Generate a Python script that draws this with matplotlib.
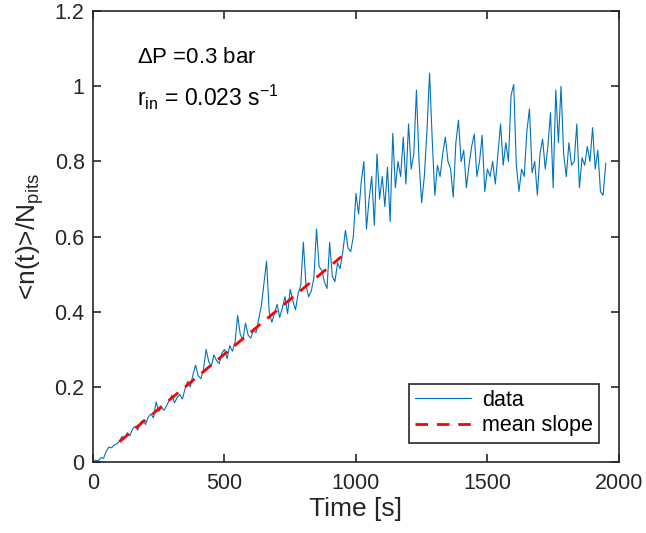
import numpy as np
import matplotlib.pyplot as plt

time_step = 10
n_norm = [
    0.000, 0.005, 0.003, 0.012, 0.010, 0.028, 0.040, 0.038, 0.045, 0.048,
    0.055, 0.068, 0.062, 0.078, 0.070, 0.088, 0.095, 0.085, 0.105, 0.112,
    0.100, 0.120, 0.128, 0.118, 0.160, 0.135, 0.145, 0.138, 0.150, 0.165,
    0.178, 0.158, 0.172, 0.180, 0.168, 0.195, 0.215, 0.200, 0.232, 0.258,
    0.230, 0.222, 0.245, 0.300, 0.268, 0.255, 0.285, 0.270, 0.262, 0.290,
    0.300, 0.275, 0.310, 0.295, 0.318, 0.390, 0.340, 0.325, 0.370, 0.338,
    0.330, 0.352, 0.345, 0.380, 0.415, 0.476, 0.535, 0.400, 0.372, 0.395,
    0.420, 0.385, 0.410, 0.440, 0.395, 0.460, 0.430, 0.405, 0.448, 0.470,
    0.585, 0.470, 0.440, 0.455, 0.490, 0.620, 0.520, 0.510, 0.480, 0.462,
    0.585, 0.495, 0.480, 0.530, 0.515, 0.560, 0.617, 0.570, 0.560, 0.600,
    0.715, 0.660, 0.745, 0.800, 0.620, 0.700, 0.760, 0.630, 0.820, 0.700,
    0.760, 0.680, 0.785, 0.640, 0.875, 0.730, 0.800, 0.760, 0.865, 0.740,
    0.900, 0.780, 0.820, 0.990, 0.800, 0.690, 0.760, 0.880, 1.035, 0.860,
    0.710, 0.790, 0.760, 0.820, 0.865, 0.800, 0.780, 0.705, 0.850, 0.910,
    0.800, 0.830, 0.730, 0.790, 0.840, 0.873, 0.760, 0.800, 0.870, 0.720,
    0.780, 0.760, 0.800, 0.740, 0.820, 0.900, 0.790, 0.850, 0.800, 0.976,
    1.005, 0.790, 0.720, 0.780, 0.760, 0.880, 0.940, 0.770, 0.800, 0.710,
    0.820, 0.860, 0.780, 0.840, 0.930, 0.730, 0.990, 0.850, 1.000, 0.820,
    0.760, 0.850, 0.790, 0.800, 0.900, 0.730, 0.810, 0.790, 0.840, 0.800,
    0.890, 0.780, 0.830, 0.720, 0.710, 0.795,
]
time = np.arange(len(n_norm)) * time_step

# Mean slope fit
slope = 0.000583
intercept = -0.004
fit_start = 100
fit_stop = 945

# Plot Configuration
plt.rcParams['font.family'] = 'Liberation Sans'
plt.rcParams['mathtext.default'] = 'regular'
plt.rcParams['axes.linewidth'] = 1.2
plt.rcParams['axes.edgecolor'] = '#262626'

fig = plt.figure(figsize=(6.46, 5.33), dpi=100)
ax = fig.add_axes([0.144, 0.133, 0.814, 0.846])

ax.plot(time, n_norm, color='#0072BD', linewidth=0.8, label='data')
fit_t = np.array([fit_start, fit_stop])
ax.plot(fit_t, slope * fit_t + intercept, color='red', linestyle='--',
        linewidth=2.0, dashes=(4.5, 3.2), label='mean slope')

ax.set_xlim(0, 2000)
ax.set_ylim(0, 1.2)
ax.set_xticks([0, 500, 1000, 1500, 2000])
ax.set_yticks([0, 0.2, 0.4, 0.6, 0.8, 1, 1.2])
ax.set_yticklabels(['0', '0.2', '0.4', '0.6', '0.8', '1', '1.2'])
ax.tick_params(direction='in', length=6, width=1.2, top=True, right=True,
               labelsize=15.5, colors='#262626', pad=6)
ax.tick_params(axis='x', pad=8)
ax.set_xlabel('Time [s]', fontsize=19, color='#262626', labelpad=2)
ax.set_ylabel('<n(t)>/N$_{pits}$', fontsize=19, color='#262626', labelpad=6)

ax.text(167, 1.078, r'$\Delta$P =0.3 bar', fontsize=16, va='center')
ax.text(167, 0.971, 'r$_{in}$ = 0.023 s$^{-1}$', fontsize=16.5, va='center')

leg = ax.legend(loc='lower right', fontsize=15.5, fancybox=False,
                edgecolor='#262626', framealpha=1, handlelength=2.6,
                borderaxespad=0.9, labelspacing=0.2, borderpad=0.3,
                handletextpad=0.5)
leg.get_frame().set_linewidth(1.2)

plt.savefig('out.png', dpi=100)
